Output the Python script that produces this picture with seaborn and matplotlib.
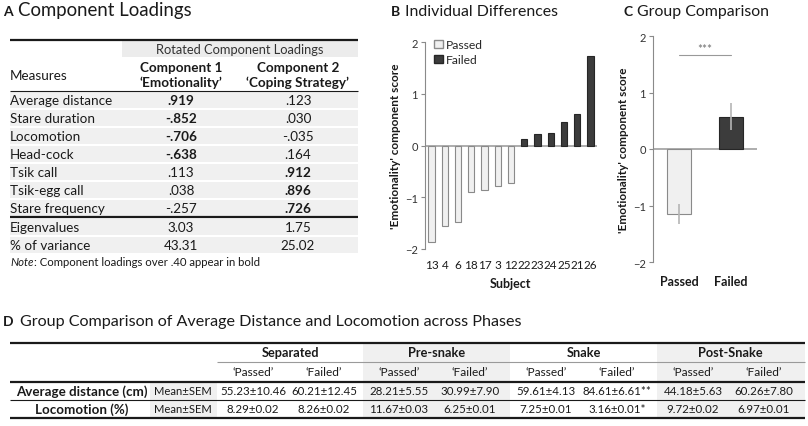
import matplotlib
matplotlib.use('Agg')
import matplotlib.pyplot as plt
import pandas as pd
import seaborn as sns
from matplotlib.patches import Rectangle, Patch

# Panel A data: rotated component loadings
measures = ["Average distance", "Stare duration", "Locomotion", "Head-cock",
            "Tsik call", "Tsik-egg call", "Stare frequency"]
comp1 = [0.919, -0.852, -0.706, -0.638, 0.113, 0.038, -0.257]
comp2 = [0.123, 0.030, -0.035, 0.164, 0.912, 0.896, 0.726]
eigenvalues = [3.03, 1.75]
variance = [43.31, 25.02]

# Panel B data: individual emotionality scores
subjects = ['13', '4', '6', '18', '17', '3', '12', '22', '23', '24', '25', '21', '26']
emotion_scores = [-1.86, -1.56, -1.47, -0.89, -0.86, -0.79, -0.73,
                  0.13, 0.23, 0.25, 0.46, 0.60, 1.73]
subject_group = ['Passed', 'Passed', 'Passed', 'Passed', 'Passed', 'Passed', 'Passed',
                 'Failed', 'Failed', 'Failed', 'Failed', 'Failed', 'Failed']

# Panel C data: group means
group_names = ['Passed', 'Failed']
group_means = [-1.15, 0.57]
group_sems = [0.17, 0.24]
sig_level = 1.67
sig_label = '***'

# Panel D data: phases
phases = ['Separated', 'Pre-snake', 'Snake', 'Post-Snake']
dist_passed_mean = [55.23, 28.21, 59.61, 44.18]
dist_passed_sem = [10.46, 5.55, 4.13, 5.63]
dist_failed_mean = [60.21, 30.99, 84.61, 60.26]
dist_failed_sem = [12.45, 7.90, 6.61, 7.80]
dist_failed_sig = ['', '', '**', '']
loco_passed_mean = [8.29, 11.67, 7.25, 9.72]
loco_passed_sem = [0.02, 0.03, 0.01, 0.02]
loco_failed_mean = [8.26, 6.25, 3.16, 6.97]
loco_failed_sem = [0.02, 0.01, 0.01, 0.01]
loco_failed_sig = ['', '', '*', '']

colors = {'Passed': '#f0f0f0', 'Failed': '#3c3c3c'}
edges = {'Passed': '#8a8a8a', 'Failed': '#262626'}
ink = '#1a1a1a'
shade = '#f0f0f0'

sns.set_theme(style='ticks')
plt.rcParams['font.family'] = ['Lato', 'DejaVu Sans']

W, H = 808, 427
fig = plt.figure(figsize=(W / 100, H / 100), dpi=100)
bg = fig.add_axes([0, 0, 1, 1])
bg.set_xlim(0, W)
bg.set_ylim(H, 0)
bg.axis('off')


def hline(y, x0, x1, lw, color=ink):
    bg.plot([x0, x1], [y, y], color=color, lw=lw, solid_capstyle='butt')


def fmt_load(v):
    return f"{v:.3f}".replace("0.", ".", 1)


def panel_title(x, y, letter, text, gap, size):
    bg.text(x, y, letter, fontsize=10, fontweight='bold', va='baseline', color=ink)
    bg.text(x + gap, y, text, fontsize=size, va='baseline', color=ink)


# ---------------- Panel A ----------------
panel_title(3, 16, 'A', 'Component Loadings', 15, 13.4)
fs = 9.7
hline(40.5, 10, 358, 1.6)
bg.add_patch(Rectangle((122, 42), 236, 16, color='#ececec', lw=0))
bg.text(240, 50.5, 'Rotated Component Loadings', ha='center', va='center', fontsize=9.3, color='#333333')
bg.text(10, 76, 'Measures', va='center', fontsize=fs, color=ink)
bg.text(181, 67.5, 'Component 1', ha='center', va='center', fontsize=fs, fontweight='bold', color=ink)
bg.text(181, 83, '\u2018Emotionality\u2019', ha='center', va='center', fontsize=fs, fontweight='bold', color=ink)
bg.text(298, 67.5, 'Component 2', ha='center', va='center', fontsize=fs, fontweight='bold', color=ink)
bg.text(298, 83, '\u2018Coping Strategy\u2019', ha='center', va='center', fontsize=fs, fontweight='bold', color=ink)
hline(91.5, 10, 358, 0.8)

for i, m in enumerate(measures):
    y0 = 92 + i * 18
    bg.add_patch(Rectangle((10, y0 + 0.6), 348, 16.8, color=shade, lw=0))
    bg.text(10, y0 + 9, m, va='center', fontsize=fs, color=ink)
    for xc, v in ((181, comp1[i]), (298, comp2[i])):
        bg.text(xc, y0 + 9, fmt_load(v), ha='center', va='center', fontsize=fs,
                fontweight='bold' if abs(v) > 0.40 else 'normal', color=ink)
hline(218, 10, 358, 1.6)
for j, (lab, vals) in enumerate((('Eigenvalues', eigenvalues), ('% of variance', variance))):
    y0 = 219 + j * 18
    bg.add_patch(Rectangle((10, y0 + 0.6), 348, 16.8, color=shade, lw=0))
    bg.text(10, y0 + 9, lab, va='center', fontsize=fs, color=ink)
    bg.text(181, y0 + 9, f"{vals[0]:.2f}", ha='center', va='center', fontsize=fs, color=ink)
    bg.text(298, y0 + 9, f"{vals[1]:.2f}", ha='center', va='center', fontsize=fs, color=ink)
note = bg.text(10, 263, 'Note', fontsize=8.2, style='italic', va='center', color=ink)
bg.annotate(': Component loadings over .40 appear in bold', xy=(1, 0), xycoords=note,
            va='bottom', fontsize=8.2, color=ink)

# ---------------- Panel B ----------------
panel_title(391, 16, 'B', 'Individual Differences', 14, 11.4)
dfB = pd.DataFrame({'Subject': subjects, 'Score': emotion_scores, 'Group': subject_group})
axB = fig.add_axes([425 / W, 1 - 250 / H, 172 / W, 207 / H])
sns.barplot(data=dfB, x='Subject', y='Score', hue='Group', order=subjects, palette=colors,
            dodge=False, width=0.48, legend=False, ax=axB)
for container, name in zip(axB.containers, ['Passed', 'Failed']):
    for bar in container:
        bar.set_edgecolor(edges[name])
        bar.set_linewidth(0.8)
axB.axhline(0, color='#a0a0a0', lw=1.2, zorder=0.5)
axB.legend(handles=[Patch(facecolor=colors[g], edgecolor=edges[g], label=g) for g in group_names],
           loc='upper left', bbox_to_anchor=(-0.01, 1.065), frameon=False, fontsize=8.7,
           handlelength=0.7, handleheight=0.7, handletextpad=0.3, labelspacing=0.3)

# ---------------- Panel C ----------------
panel_title(623, 16, 'C', 'Group Comparison', 14, 11.4)
dfC = pd.DataFrame({'Group': group_names, 'Mean': group_means})
axC = fig.add_axes([653 / W, 1 - 263 / H, 104 / W, 226 / H])
sns.barplot(data=dfC, x='Group', y='Mean', hue='Group', palette=colors, width=0.48,
            legend=False, ax=axC)
for container, name in zip(axC.containers, group_names):
    for bar in container:
        bar.set_edgecolor(edges[name])
        bar.set_linewidth(0.8)
axC.errorbar(x=range(len(group_names)), y=group_means, yerr=group_sems, fmt='none',
             ecolor='#b5b5b5', elinewidth=1.2, capsize=0, zorder=3)
axC.axhline(0, color='#a0a0a0', lw=1.2, zorder=0.5)
axC.plot([0, 1], [sig_level, sig_level], color='#999999', lw=0.8)
axC.text(0.5, sig_level + 0.01, sig_label, ha='center', va='bottom', fontsize=8.5, color='#707070')

for ax, pad in ((axB, 7), (axC, 9)):
    ax.set_ylim(-2, 2)
    ax.set_yticks([-2, -1, 0, 1, 2])
    ax.set_xlim(-0.5, len(ax.get_xticks()) - 0.5)
    for s in ('top', 'right', 'bottom'):
        ax.spines[s].set_visible(False)
    ax.spines['left'].set_color('#8a8a8a')
    ax.spines['left'].set_linewidth(0.8)
    ax.tick_params(axis='y', length=3, width=0.8, color='#8a8a8a', labelsize=8, pad=2,
                   labelcolor='#333333')
    ax.tick_params(axis='x', length=0, pad=pad, labelcolor=ink)
    ax.set_ylabel("'Emotionality' component score", fontsize=8.5, fontweight='bold',
                  color=ink, labelpad=3)
    ax.set_facecolor('none')
axB.tick_params(axis='x', labelsize=8.5)
axB.set_xlabel('Subject', fontsize=9, fontweight='bold', color=ink, labelpad=5)
axC.set_xlabel('')
for t in axC.get_xticklabels():
    t.set_fontweight('bold')
    t.set_fontsize(9)

# ---------------- Panel D ----------------
panel_title(3, 326, 'D', 'Group Comparison of Average Distance and Locomotion across Phases', 17, 11.6)
band_left = [217, 363, 510, 657]
band_w = 147
fsd = 8.3
bg.add_patch(Rectangle((band_left[1], 345), band_w, 73, color=shade, lw=0))
bg.add_patch(Rectangle((band_left[3], 345), 805 - band_left[3], 73, color=shade, lw=0))
bg.add_patch(Rectangle((150, 384), 67, 34, color=shade, lw=0))
hline(344, 10, 805, 1.6)
hline(363, 217, 805, 0.8, color='#9a9a9a')
hline(383, 10, 805, 1.6)
hline(400.5, 10, 805, 0.8)
hline(418.5, 10, 805, 1.6)

rows = [('Average distance (cm)', dist_passed_mean, dist_passed_sem,
         dist_failed_mean, dist_failed_sem, dist_failed_sig, 392),
        ('Locomotion (%)', loco_passed_mean, loco_passed_sem,
         loco_failed_mean, loco_failed_sem, loco_failed_sig, 409.5)]
for k, ph in enumerate(phases):
    bl = band_left[k]
    bg.text(bl + band_w / 2, 353.5, ph, ha='center', va='center', fontsize=9.2,
            fontweight='bold', color=ink)
    bg.text(bl + 36, 372.5, '\u2018Passed\u2019', ha='center', va='center', fontsize=fsd + 0.3, color=ink)
    bg.text(bl + 107, 372.5, '\u2018Failed\u2019', ha='center', va='center', fontsize=fsd + 0.3, color=ink)
for lab, pm, ps, fm, fsem, sig, yc in rows:
    bg.text(82, yc, lab, ha='center', va='center', fontsize=9.6, fontweight='bold', color=ink)
    bg.text(183, yc, 'Mean\u00b1SEM', ha='center', va='center', fontsize=8.1, color=ink)
    for k in range(len(phases)):
        bl = band_left[k]
        bg.text(bl + 36, yc, f"{pm[k]:.2f}\u00b1{ps[k]:.2f}", ha='center', va='center',
                fontsize=fsd, color=ink)
        bg.text(bl + 107, yc, f"{fm[k]:.2f}\u00b1{fsem[k]:.2f}{sig[k]}", ha='center',
                va='center', fontsize=fsd, color=ink)

fig.savefig('out.png', dpi=100)
